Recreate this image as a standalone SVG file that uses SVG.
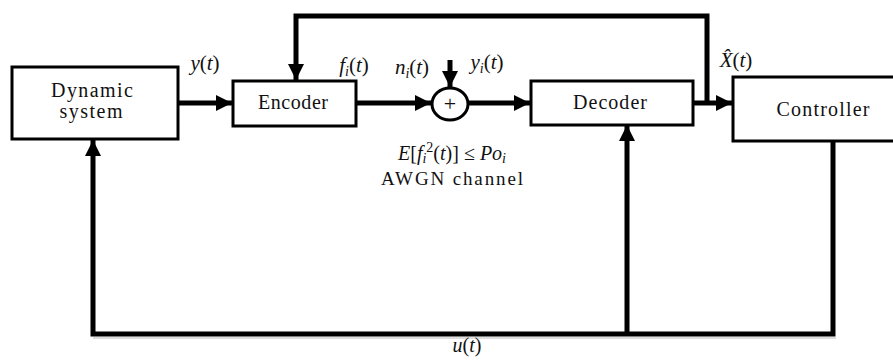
<svg xmlns="http://www.w3.org/2000/svg" width="893" height="360" viewBox="0 0 893 360">
<style>
.box{fill:#fff;stroke:#000;stroke-width:3}
.wire{fill:none;stroke:#000;stroke-width:5;stroke-linejoin:miter;stroke-linecap:butt}
.t{font-family:"Liberation Serif","DejaVu Serif",serif;font-size:20px;fill:#111;text-anchor:middle}
.m{font-family:"Liberation Serif","DejaVu Serif",serif;font-size:21px;font-style:italic;fill:#111;text-anchor:middle}
.r{font-style:normal}
.sub{font-size:14px}
</style>
<defs>
<marker id="ah" markerUnits="userSpaceOnUse" markerWidth="16" markerHeight="16" refX="16" refY="8" orient="auto">
<path d="M0,0 L16,8 L0,16 Z" fill="#000"/>
</marker>
</defs>
<rect width="893" height="360" fill="#fff"/>
<g id="connectors">
<line class="wire" x1="178" y1="103" x2="232" y2="103" marker-end="url(#ah)"/>
<line class="wire" x1="356" y1="103" x2="431" y2="103" marker-end="url(#ah)"/>
<line class="wire" x1="450" y1="60" x2="450" y2="87" marker-end="url(#ah)"/>
<line class="wire" x1="468" y1="103" x2="530" y2="103" marker-end="url(#ah)"/>
<line class="wire" x1="693" y1="103" x2="732" y2="103" marker-end="url(#ah)"/>
<polyline class="wire" points="707,103 707,16 296,16 296,80" marker-end="url(#ah)"/>
<polyline class="wire" points="833,141 833,334 93,334 93,140" marker-end="url(#ah)"/>
<line class="wire" x1="627" y1="334" x2="627" y2="125" marker-end="url(#ah)"/>
<line x1="93" y1="338" x2="836" y2="338" stroke="#bbb" stroke-width="1"/>
</g>
<g id="dynamic">
<rect class="box" x="12" y="67" width="166" height="72"/>
<text class="t" x="92" y="97" textLength="82">Dynamic</text>
<text class="t" x="91" y="118" textLength="63">system</text>
</g>
<g id="encoder">
<rect class="box" x="233" y="81" width="123" height="45"/>
<text class="t" x="293" y="109" textLength="70">Encoder</text>
</g>
<g id="sum">
<ellipse cx="450" cy="104" rx="18" ry="16" fill="#fff" stroke="#000" stroke-width="3"/>
<text class="t" x="450" y="111" style="font-size:22px">+</text>
</g>
<g id="decoder">
<rect class="box" x="531" y="81" width="162" height="44"/>
<text class="t" x="610" y="109" textLength="74">Decoder</text>
</g>
<g id="controller">
<rect class="box" x="733" y="77" width="170" height="64"/>
<text class="t" x="823" y="116" textLength="93">Controller</text>
</g>
<g id="labels">
<text class="m" x="205" y="70">y<tspan class="r">(</tspan>t<tspan class="r">)</tspan></text>
<text class="m" x="354" y="72">f<tspan class="sub" dy="4">i</tspan><tspan class="r" dy="-4">(</tspan>t<tspan class="r">)</tspan></text>
<text class="m" x="412" y="74">n<tspan class="sub" dy="4">i</tspan><tspan class="r" dy="-4">(</tspan>t<tspan class="r">)</tspan></text>
<text class="m" x="487" y="69">y<tspan class="sub" dy="4">i</tspan><tspan class="r" dy="-4">(</tspan>t<tspan class="r">)</tspan></text>
<text class="m" x="736" y="67">X̂<tspan class="r">(</tspan>t<tspan class="r">)</tspan></text>
<text class="m" x="452" y="160" style="font-size:20px">E<tspan class="r">[</tspan>f<tspan class="sub" dy="3">i</tspan><tspan class="sub r" dy="-11">2</tspan><tspan class="r" dy="8">(</tspan>t<tspan class="r">)] ≤ </tspan>Po<tspan class="sub" dy="3">i</tspan></text>
<text class="t" x="452" y="185" textLength="142" style="font-size:19px">AWGN channel</text>
<text class="m" x="467" y="352" style="font-size:20px">u<tspan class="r">(</tspan>t<tspan class="r">)</tspan></text>
</g>
</svg>
